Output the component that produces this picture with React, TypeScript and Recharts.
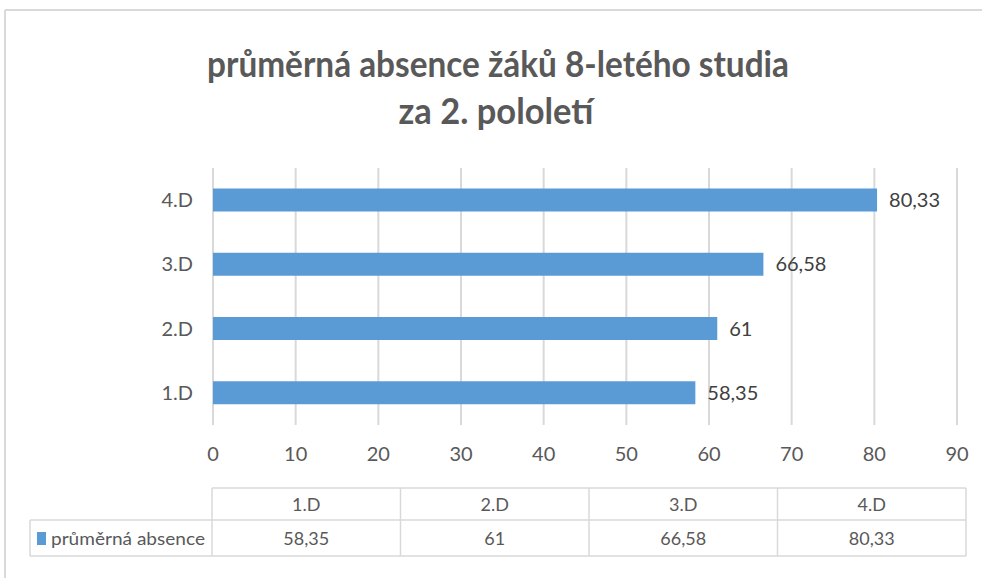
import React from 'react';
import { BarChart, Bar, XAxis, YAxis, CartesianGrid, LabelList } from 'recharts';

const categories = ['1.D', '2.D', '3.D', '4.D'];
const absence = [58.35, 61, 66.58, 80.33];
const xTicks = [0, 10, 20, 30, 40, 50, 60, 70, 80, 90];
const seriesName = 'průměrná absence';
const titleLines = ['průměrná absence žáků 8-letého studia', 'za 2. pololetí'];

const data = categories.map((c, i) => ({ name: c, value: absence[i] }));
const fmt = (v: number) => String(v).replace('.', ',');

const FONT = 'Lato, "Open Sans", sans-serif';
const GRID = '#D9D9D9';
const TEXT = '#595959';
const BAR = '#5B9BD5';

export default function App() {
  const tableLeft = 212;
  const colW = 188.5;
  const hdrTop = 488;
  const rowMid = 520;
  const tblBottom = 556;
  const legendLeft = 30;
  return (
    <div style={{ position: 'absolute', left: 0, top: 0, width: 982, height: 578, background: '#fff', overflow: 'hidden' }}>
      <BarChart
        width={982}
        height={578}
        data={data}
        layout="vertical"
        margin={{ top: 168, right: 25, bottom: 123, left: 0 }}
        barCategoryGap="32%"
      >
        <CartesianGrid horizontal={false} stroke={GRID} strokeWidth={2} />
        <XAxis
          type="number"
          domain={[0, 90]}
          ticks={xTicks}
          tickLine={false}
          axisLine={false}
          tickSize={0}
          tickMargin={22}
          height={30}
          interval={0}
          tick={{ fill: TEXT, fontSize: 20, fontFamily: FONT }}
        />
        <YAxis
          type="category"
          dataKey="name"
          reversed
          width={213}
          tickLine={false}
          axisLine={false}
          tickSize={0}
          tickMargin={20}
          tick={{ fill: TEXT, fontSize: 20, fontFamily: FONT }}
        />
        <Bar dataKey="value" fill={BAR} isAnimationActive={false}>
          <LabelList
            dataKey="value"
            position="right"
            offset={12}
            formatter={(v: any) => fmt(v)}
            style={{ fill: '#404040', fontSize: 20, fontFamily: FONT }}
          />
        </Bar>
      </BarChart>
      <svg width={982} height={578} style={{ position: 'absolute', left: 0, top: 0, pointerEvents: 'none' }}>
        <line x1={5} y1={10} x2={982} y2={10} stroke={GRID} strokeWidth={2} />
        <line x1={5} y1={10} x2={5} y2={578} stroke={GRID} strokeWidth={2} />
        <text x={498} y={77} textAnchor="middle" fontFamily={FONT} fontWeight="bold" fontSize={37} fill={TEXT}
          textLength={582} lengthAdjust="spacingAndGlyphs">{titleLines[0]}</text>
        <text x={496} y={124} textAnchor="middle" fontFamily={FONT} fontWeight="bold" fontSize={37} fill={TEXT}
          textLength={195} lengthAdjust="spacingAndGlyphs">{titleLines[1]}</text>
        {/* data table */}
        <g stroke={GRID} strokeWidth={1.5} fill="none">
          <line x1={tableLeft} y1={hdrTop} x2={tableLeft + colW * categories.length} y2={hdrTop} />
          <line x1={legendLeft} y1={rowMid} x2={tableLeft + colW * categories.length} y2={rowMid} />
          <line x1={legendLeft} y1={tblBottom} x2={tableLeft + colW * categories.length} y2={tblBottom} />
          <line x1={legendLeft} y1={rowMid} x2={legendLeft} y2={tblBottom} />
          {categories.map((_, i) => (
            <line key={i} x1={tableLeft + colW * i} y1={hdrTop} x2={tableLeft + colW * i} y2={tblBottom} />
          ))}
          <line x1={tableLeft + colW * categories.length} y1={hdrTop} x2={tableLeft + colW * categories.length} y2={tblBottom} />
        </g>
        {categories.map((c, i) => (
          <text key={'h' + i} x={tableLeft + colW * (i + 0.5)} y={511} textAnchor="middle" fontFamily={FONT} fontSize={18} fill={TEXT}>{c}</text>
        ))}
        {absence.map((v, i) => (
          <text key={'v' + i} x={tableLeft + colW * (i + 0.5)} y={545} textAnchor="middle" fontFamily={FONT} fontSize={18} fill={TEXT}>{fmt(v)}</text>
        ))}
        <rect x={37} y={532} width={9} height={13} fill={BAR} />
        <text x={51} y={545} fontFamily={FONT} fontSize={17} fill={TEXT} textLength={154} lengthAdjust="spacingAndGlyphs">{seriesName}</text>
      </svg>
    </div>
  );
}
